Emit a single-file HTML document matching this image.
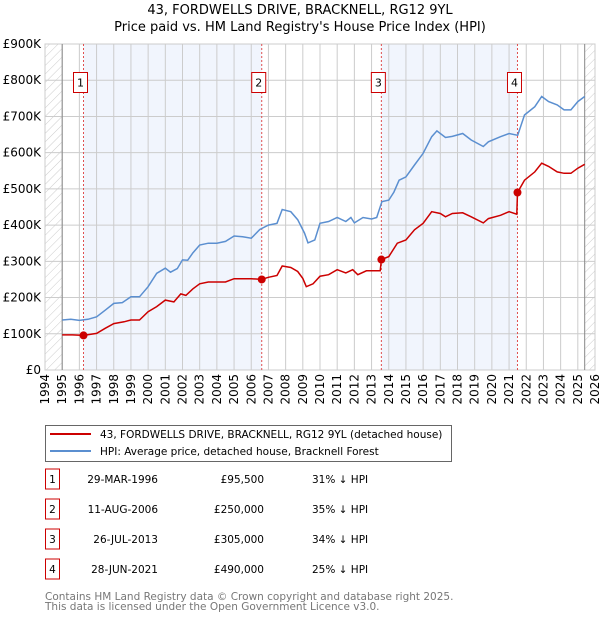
<!DOCTYPE html>
<html><head><meta charset="utf-8"><style>
body{margin:0;background:#fff;font-family:"DejaVu Sans","Liberation Sans",sans-serif;}
svg text{font-family:"DejaVu Sans","Liberation Sans",sans-serif;}
</style></head><body>
<svg id="c" width="600" height="620" xmlns="http://www.w3.org/2000/svg">
<defs><pattern id="hatch" width="6" height="6" patternUnits="userSpaceOnUse" patternTransform="rotate(45)"><line x1="0" y1="0" x2="0" y2="6" stroke="#ccc" stroke-width="1"/></pattern></defs>
<text x="300" y="14" text-anchor="middle" font-size="13">43, FORDWELLS DRIVE, BRACKNELL, RG12 9YL</text>
<text x="300" y="31" text-anchor="middle" font-size="13">Price paid vs. HM Land Registry's House Price Index (HPI)</text>
<g id="plot"></g>
<g>
<rect x="45.5" y="425.5" width="406" height="36" fill="#fff" stroke="#666"/>
<line x1="50" y1="434" x2="91" y2="434" stroke="#cc0000" stroke-width="2"/>
<text x="100" y="438" font-size="10.5">43, FORDWELLS DRIVE, BRACKNELL, RG12 9YL (detached house)</text>
<line x1="50" y1="451" x2="91" y2="451" stroke="#5b8fd0" stroke-width="2"/>
<text x="100" y="455" font-size="10.5">HPI: Average price, detached house, Bracknell Forest</text>
</g>
<g id="table" font-size="10.5"></g>
<text x="45" y="600" font-size="10.5" fill="#777">Contains HM Land Registry data © Crown copyright and database right 2025.</text>
<text x="45" y="610" font-size="10.5" fill="#777">This data is licensed under the Open Government Licence v3.0.</text>
</svg>
<script>
const hpiYears=[1995,1995.5,1996,1996.5,1997,1997.5,1998,1998.5,1999,1999.5,2000,2000.5,2001,2001.3,2001.7,2002,2002.3,2002.6,2003,2003.5,2004,2004.5,2005,2005.5,2006,2006.5,2007,2007.5,2007.8,2008.3,2008.7,2009.1,2009.3,2009.7,2010,2010.5,2011,2011.5,2011.8,2012,2012.5,2013,2013.3,2013.6,2014,2014.3,2014.6,2015,2015.5,2016,2016.5,2016.8,2017.3,2017.7,2018.3,2018.8,2019.5,2019.8,2020.5,2021,2021.5,2021.9,2022.5,2022.9,2023.3,2023.8,2024.2,2024.6,2025,2025.4];
const hpiValues=[138,140,137,140,147,165,184,186,202,202,230,267,281,270,280,304,303,323,345,350,350,355,370,368,364,388,400,405,443,437,415,378,351,359,405,410,421,410,421,406,421,417,421,465,469,491,524,533,566,598,644,660,642,645,653,635,617,630,644,653,648,704,727,755,741,732,718,718,741,755];
const priceYears=[1995,1995.6,1996.24,1997,1997.5,1998,1998.6,1999,1999.5,2000,2000.5,2001,2001.5,2001.9,2002.2,2002.6,2003,2003.5,2004,2004.5,2005,2005.5,2006,2006.6,2007,2007.5,2007.8,2008.3,2008.7,2009,2009.2,2009.6,2010,2010.5,2011,2011.5,2011.9,2012.2,2012.7,2013,2013.5,2013.57,2014,2014.5,2015,2015.5,2016,2016.5,2017,2017.3,2017.7,2018.3,2018.8,2019.5,2019.8,2020.5,2021,2021.45,2021.49,2021.9,2022.5,2022.9,2023.3,2023.8,2024.2,2024.6,2025,2025.4];
const priceValues=[97,97,95.5,101,115,128,133,138,138,161,175,193,188,210,206,224,238,243,243,243,252,252,252,250,256,261,287,283,272,253,230,238,259,263,277,268,277,263,274,274,274,305,313,350,359,387,405,437,432,423,432,434,423,406,418,427,437,430,490,524,547,571,562,547,543,543,557,568];
const saleYears=[1996.24,2006.61,2013.57,2021.49];
const saleValues=[95.5,250,305,490];
const saleLabels=["1","2","3","4"];
const saleDates=["29-MAR-1996","11-AUG-2006","26-JUL-2013","28-JUN-2021"];
const salePrices=["£95,500","£250,000","£305,000","£490,000"];
const saleDiffs=["31% ↓ HPI","35% ↓ HPI","34% ↓ HPI","25% ↓ HPI"];
const yTicks=[0,100,200,300,400,500,600,700,800,900];
const yTickLabels=["£0","£100K","£200K","£300K","£400K","£500K","£600K","£700K","£800K","£900K"];
const xTicks=[1994,1995,1996,1997,1998,1999,2000,2001,2002,2003,2004,2005,2006,2007,2008,2009,2010,2011,2012,2013,2014,2015,2016,2017,2018,2019,2020,2021,2022,2023,2024,2025,2026];

const L=45,R=595,T=44,B=370,X0=1994,X1=2026,YMAX=900,DATA_END=2025.4;
const sx=v=>L+(v-X0)/(X1-X0)*(R-L);
const sy=v=>B-v/YMAX*(B-T);
const NS="http://www.w3.org/2000/svg";
const plot=document.getElementById('plot');
function mk(tag,attrs,parent){const e=document.createElementNS(NS,tag);for(const k in attrs)e.setAttribute(k,attrs[k]);(parent||plot).appendChild(e);return e;}

let e=mk('rect',{x:L,y:T,width:R-L,height:B-T,fill:'#fff',stroke:'#ccc'});


for(let i=0;i<saleYears.length;i+=2){
 e=mk('rect',{x:sx(saleYears[i]),y:T,width:sx(saleYears[i+1])-sx(saleYears[i]),height:B-T,fill:'#eef3fc',opacity:0.8});
 
 
}
e=mk('rect',{x:L,y:T,width:sx(1995)-L,height:B-T,fill:'url(#hatch)'});


e=mk('rect',{x:sx(DATA_END),y:T,width:R-sx(DATA_END),height:B-T,fill:'url(#hatch)'});


xTicks.forEach(t=>{
 e=mk('line',{x1:sx(t),x2:sx(t),y1:T,y2:B,stroke:'#ccc','stroke-width':1});
 
 
 e=mk('text',{transform:`translate(${sx(t)+4},${B+4}) rotate(-90)`,'text-anchor':'end','font-size':12});
 e.textContent=t;
 
 
});
yTicks.forEach((t,i)=>{
 e=mk('line',{x1:L,x2:R,y1:sy(t),y2:sy(t),stroke:'#ccc','stroke-width':1});
 
 
 e=mk('text',{x:L-4,y:sy(t)+4,'text-anchor':'end','font-size':12});
 e.textContent=yTickLabels[i];
 
 
});
e=mk('line',{x1:sx(1995),x2:sx(1995),y1:T,y2:B,stroke:'#888'});


e=mk('line',{x1:sx(DATA_END),x2:sx(DATA_END),y1:T,y2:B,stroke:'#888'});


saleYears.forEach((y,i)=>{
 e=mk('line',{x1:sx(y),x2:sx(y),y1:T,y2:B,stroke:'#e05050','stroke-dasharray':'2,2','stroke-width':1});
 
 
 const bx=sx(y)-3;
 e=mk('rect',{x:bx-7,y:72.5,width:14,height:20,fill:'#fff',stroke:'#cc0000'});
 
 
 e=mk('text',{x:bx,y:86.5,'text-anchor':'middle','font-size':11});
 e.textContent=saleLabels[i];
 
 
});
function path(xs,vs){return xs.map((x,i)=>(i?'L':'M')+sx(x).toFixed(1)+','+sy(vs[i]).toFixed(1)).join('');}
e=mk('path',{d:path(hpiYears,hpiValues),fill:'none',stroke:'#5b8fd0','stroke-width':1.5});


e=mk('path',{d:path(priceYears,priceValues),fill:'none',stroke:'#cc0000','stroke-width':1.5});


saleYears.forEach((y,i)=>{
 e=mk('circle',{cx:sx(y),cy:sy(saleValues[i]),r:4,fill:'#cc0000'});
 
 
});
const tbl=document.getElementById('table');
saleLabels.forEach((lab,i)=>{
 const y=483+i*30;
 e=mk('rect',{x:45.5,y:y-14,width:14,height:20,fill:'#fff',stroke:'#cc0000'},tbl);
 
 
 e=mk('text',{x:52.5,y:y,'text-anchor':'middle'},tbl);e.textContent=lab;
 
 
 e=mk('text',{x:158,y:y,'text-anchor':'end'},tbl);e.textContent=saleDates[i];
 
 
 e=mk('text',{x:264,y:y,'text-anchor':'end'},tbl);e.textContent=salePrices[i];
 
 
 e=mk('text',{x:312,y:y},tbl);e.textContent=saleDiffs[i];
 
 
});
</script>
</body></html>
